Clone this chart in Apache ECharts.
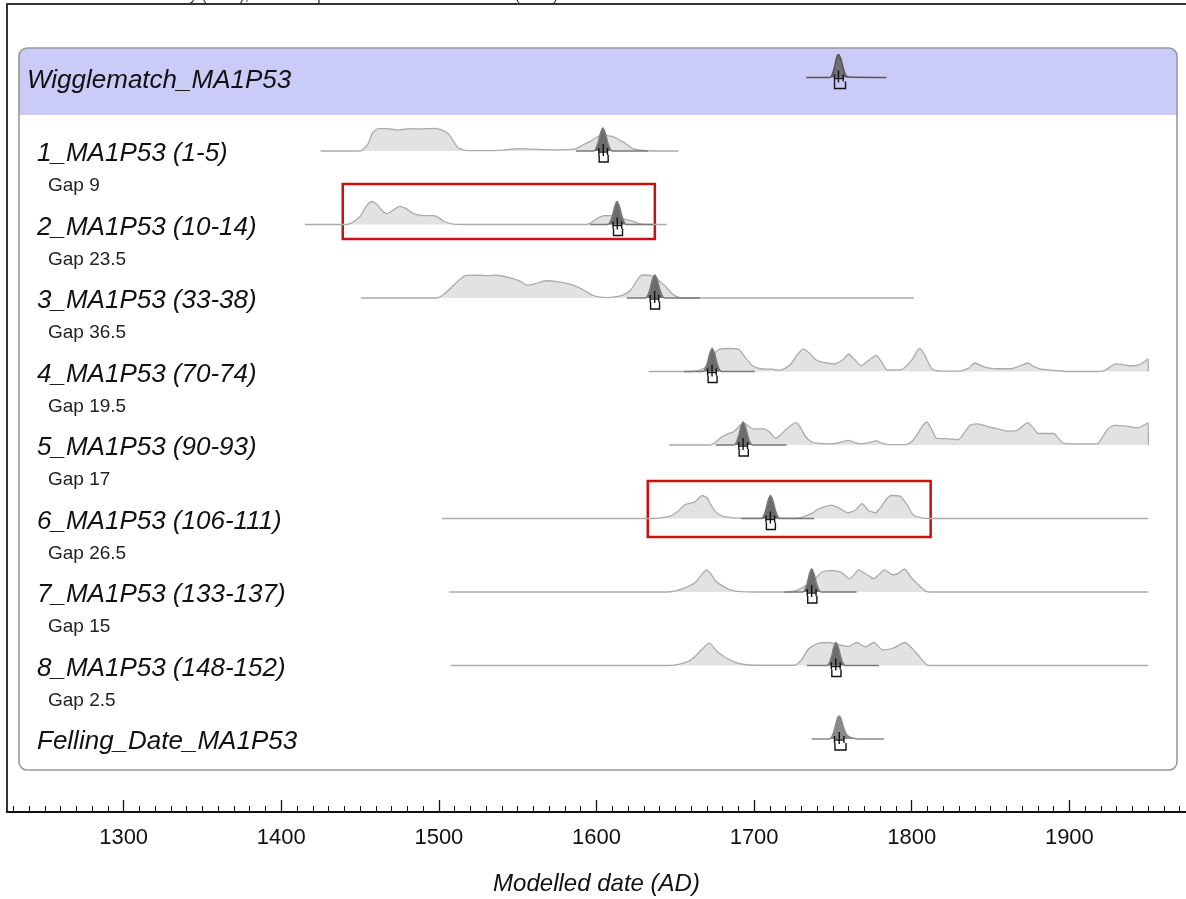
<!DOCTYPE html>
<html>
<head>
<meta charset="utf-8">
<script src="https://cdn.jsdelivr.net/npm/echarts@6/dist/echarts.min.js"></script>
<style>
  html, body { margin: 0; padding: 0; background: #ffffff; }
  #chart { width: 1186px; height: 899px; }
</style>
</head>
<body>
<div id="chart"></div>
<script>
// ---- Labels ----
const headerName = 'Wigglematch_MA1P53';
const rowNames = [
  '1_MA1P53 (1-5)', '2_MA1P53 (10-14)', '3_MA1P53 (33-38)', '4_MA1P53 (70-74)',
  '5_MA1P53 (90-93)', '6_MA1P53 (106-111)', '7_MA1P53 (133-137)', '8_MA1P53 (148-152)'
];
const fellingName = 'Felling_Date_MA1P53';
const gapLabels = ['Gap 9', 'Gap 23.5', 'Gap 36.5', 'Gap 19.5', 'Gap 17', 'Gap 26.5', 'Gap 15', 'Gap 2.5'];
const majorYears = [1300, 1400, 1500, 1600, 1700, 1800, 1900];
const axisTitle = 'Modelled date (AD)';
const topNote = 'OxCal v4.4.4 Bronk Ramsey (2021); r:5 Atmospheric data from Reimer et al (2020)';

// ---- Unmodelled (calibrated) distributions, [year AD, relative probability] ----
const prior1 = [[1425,0],[1449,0],[1451,0.02],[1455,0.3],[1458,0.8],[1461.5,0.97],[1467,0.97],[1472,0.93],[1475,0.92],[1481.5,0.97],[1488,0.96],[1496.5,0.98],[1501.5,0.92],[1506,0.75],[1509,0.45],[1512,0.15],[1516.5,0.03],[1525,0.02],[1539,0.03],[1551,0.1],[1560,0.08],[1572,0.05],[1582,0.06],[1587,0.1],[1591,0.25],[1596,0.42],[1603,0.68],[1610.5,0.62],[1614,0.5],[1618,0.35],[1623,0.1],[1632,0.01],[1652,0]];
const prior2 = [[1415,0],[1441,0],[1445,0.08],[1450,0.35],[1454,0.8],[1457.5,1.0],[1461,0.85],[1464,0.6],[1467,0.47],[1471,0.62],[1475,0.79],[1479,0.7],[1484,0.47],[1490,0.39],[1496.5,0.39],[1500,0.3],[1503,0.14],[1509,0.02],[1520,0],[1594,0],[1597,0.1],[1600,0.25],[1605,0.39],[1610,0.38],[1614,0.3],[1618,0.22],[1623,0.15],[1627.5,0.03],[1632,0],[1644.5,0]];
const prior3 = [[1450.5,0],[1499,0],[1503,0.15],[1507,0.4],[1510,0.6],[1514,0.85],[1517.5,0.98],[1525,0.99],[1531,0.97],[1537,0.99],[1544,0.9],[1551,0.75],[1556,0.55],[1561,0.62],[1568,0.75],[1576,0.7],[1583,0.6],[1589,0.45],[1593,0.3],[1597.5,0.12],[1602,0.04],[1607,0.02],[1614.5,0.08],[1619,0.2],[1622,0.37],[1626,0.8],[1629,1.0],[1634,0.98],[1638,0.85],[1643.5,0.52],[1648.5,0.15],[1653,0.02],[1660,0],[1801.3,0]];
const prior4 = [[1633,0],[1660,0],[1665,0.05],[1668.5,0.15],[1672,0.45],[1675,0.8],[1678,0.97],[1684,1.0],[1690,0.97],[1694.5,0.6],[1699,0.25],[1704,0.12],[1711,0.1],[1717,0.06],[1723,0.3],[1727,0.7],[1731,0.97],[1735,0.8],[1739.5,0.5],[1745,0.38],[1751,0.33],[1756,0.5],[1760,0.75],[1764,0.5],[1768,0.25],[1772,0.45],[1777.5,0.7],[1781,0.4],[1784.5,0.07],[1793,0.07],[1800,0.5],[1805,1.0],[1808,0.75],[1813,0.1],[1820,0.02],[1830,0.02],[1836,0.15],[1840,0.37],[1845,0.22],[1849,0.15],[1856,0.12],[1863,0.12],[1869,0.25],[1873.5,0.37],[1878,0.2],[1882,0.1],[1891,0.05],[1898,0],[1915,0],[1922,0.03],[1926,0.2],[1929,0.33],[1934,0.3],[1938.5,0.25],[1944.5,0.3],[1950,0.55],[1950.1,0]];
const prior5 = [[1646,0],[1672,0],[1676,0.15],[1680,0.38],[1684,0.5],[1687.5,0.6],[1691,0.85],[1693.5,0.95],[1696,0.85],[1699,0.7],[1706.5,0.7],[1710,0.55],[1713.5,0.3],[1717,0.45],[1720.5,0.7],[1726.5,0.97],[1729,0.8],[1732.5,0.38],[1736,0.15],[1739.5,0.08],[1749,0.05],[1755,0.12],[1759.7,0.2],[1764,0.1],[1768,0.05],[1773,0.1],[1777.5,0.18],[1781,0.08],[1785,0.02],[1796.5,0.02],[1800,0.15],[1803.5,0.46],[1806.5,0.8],[1809.5,1.0],[1812.5,0.7],[1815.5,0.3],[1819,0.28],[1823.5,0.27],[1829.5,0.23],[1833,0.5],[1836.8,0.85],[1841.5,0.92],[1846,0.85],[1851,0.75],[1856,0.68],[1860.5,0.6],[1866.5,0.62],[1870,0.8],[1873.5,0.97],[1877,0.75],[1880.5,0.5],[1890,0.5],[1893,0.3],[1896,0.08],[1903,0.05],[1908,0.05],[1917.5,0.05],[1921,0.35],[1924.5,0.7],[1929,0.85],[1936.5,0.82],[1943.5,0.75],[1947,0.85],[1950,0.97],[1950.1,0]];
const prior6 = [[1502,0],[1636,0],[1640,0.02],[1644,0.06],[1647.5,0.12],[1651.5,0.3],[1656,0.6],[1662.5,0.72],[1667,1.0],[1670,0.9],[1673,0.55],[1675.5,0.3],[1680,0.1],[1686.5,0.03],[1700,0.01],[1720,0.01],[1730,0.05],[1736.5,0.22],[1740,0.38],[1743.5,0.48],[1749,0.58],[1754,0.45],[1759.5,0.25],[1764,0.35],[1768.5,0.65],[1772.5,0.35],[1777,0.25],[1780.5,0.5],[1784,0.85],[1787,1.0],[1792.5,0.97],[1797,0.6],[1801,0.15],[1806.5,0.02],[1811,0],[1950,0]];
const prior7 = [[1506.5,0],[1645,0],[1650,0.05],[1656,0.18],[1662.5,0.4],[1667,0.78],[1670,0.96],[1673,0.75],[1675.5,0.48],[1682,0.18],[1686,0.07],[1691,0.02],[1700,0],[1720,0],[1726,0.05],[1731,0.2],[1735,0.4],[1739,0.6],[1743.3,0.88],[1750,0.93],[1755.3,0.85],[1760.7,0.58],[1763.5,0.75],[1766.2,0.96],[1771.7,0.75],[1776,0.58],[1779,0.75],[1782.6,0.96],[1788,0.75],[1791.3,0.8],[1795.3,1.0],[1800,0.6],[1804.4,0.3],[1809,0.03],[1813,0],[1950,0]];
const prior8 = [[1507.5,0],[1645,0],[1649.5,0.02],[1655,0.1],[1660.3,0.26],[1664,0.5],[1666.8,0.7],[1671.6,0.97],[1676.7,0.6],[1682,0.34],[1686,0.2],[1689.8,0.09],[1699.6,0.01],[1725.8,0.01],[1730.2,0.26],[1734.6,0.73],[1741,0.97],[1747.7,1.0],[1754,0.9],[1759.7,0.82],[1765.1,1.0],[1770.6,0.81],[1776,1.0],[1781.5,0.68],[1788,0.75],[1795.7,1.0],[1802.2,0.6],[1806.6,0.25],[1809.8,0.02],[1815,0],[1950,0]];

// ---- Modelled (posterior) distributions ----
const postWiggle = [[1733,0],[1748,0],[1749.5,0.12],[1751,0.45],[1752.3,0.85],[1753.5,1],[1755,0.8],[1756.5,0.4],[1758,0.1],[1760,0.02],[1784,0]];
const post1 = [[1587,0],[1598,0],[1599.5,0.08],[1601,0.35],[1602.5,0.75],[1604,1],[1605.5,0.78],[1607,0.38],[1608.5,0.1],[1610,0],[1632.5,0]];
const post2 = [[1596,0],[1607,0],[1608.5,0.08],[1610,0.35],[1611.5,0.75],[1613,1],[1614.5,0.78],[1616,0.38],[1617.5,0.1],[1619,0],[1636,0]];
const post3 = [[1619.3,0],[1631,0],[1632.5,0.1],[1634,0.4],[1635.5,0.8],[1637,1],[1638.5,0.8],[1640,0.4],[1641.5,0.12],[1643,0],[1665.5,0]];
const post4 = [[1655.4,0],[1667.5,0],[1669,0.1],[1670.5,0.4],[1672,0.8],[1673.3,1],[1674.8,0.8],[1676.3,0.4],[1677.8,0.1],[1679.5,0],[1700.4,0]];
const post5 = [[1675.6,0],[1687.2,0],[1688.7,0.1],[1690.2,0.4],[1691.7,0.8],[1693,1],[1694.4,0.8],[1695.9,0.4],[1697.4,0.1],[1699,0],[1720.6,0]];
const post6 = [[1692,0],[1704.5,0],[1706,0.1],[1707.5,0.4],[1709,0.8],[1710.3,1],[1711.8,0.8],[1713.3,0.4],[1714.8,0.1],[1716.5,0],[1738,0]];
const post7 = [[1719.3,0],[1730.8,0],[1732.3,0.1],[1733.8,0.4],[1735.2,0.8],[1736.5,1],[1737.9,0.8],[1739.4,0.4],[1740.9,0.1],[1742.5,0],[1765,0]];
const post8 = [[1733.4,0],[1746.2,0],[1747.7,0.1],[1749.2,0.4],[1750.6,0.8],[1751.9,1],[1753.3,0.8],[1754.8,0.4],[1756.3,0.1],[1758,0],[1779.3,0]];
const postFelling = [[1736.4,0],[1748,0],[1750,0.2],[1751.5,0.55],[1753,0.92],[1754,1.0],[1755,0.9],[1756.5,0.55],[1758,0.25],[1760,0.1],[1763,0.03],[1766,0],[1782.3,0]];

// ---- Summary statistics: [mean, 68.2% from, 68.2% to, 95.4% from, 95.4% to] ----
const summaryWiggle = [1753.5, 1751, 1756.5, 1751, 1758];
const summaryRows = [
  [1604.3, 1601.5, 1607, 1601.7, 1607.4],
  [1613.2, 1610.5, 1616, 1610.8, 1616.5],
  [1636.9, 1634, 1639.5, 1634.3, 1640],
  [1673.3, 1670.5, 1676, 1670.8, 1676.5],
  [1693.0, 1690.2, 1695.8, 1690.5, 1696.3],
  [1710.3, 1707.5, 1713, 1707.8, 1713.5],
  [1736.5, 1733.7, 1739.3, 1734, 1739.8],
  [1751.8, 1749, 1754.6, 1749.3, 1755.1]
];
const summaryFelling = [1754.0, 1751, 1757, 1751.3, 1758.3];

// ---- Highlighted year spans (row number, from, to) ----
const highlightRows = [2, 6];
const highlightFrom = [1439, 1632.5];
const highlightTo = [1637, 1812];

// ---- Layout ----
const FONT = '"Liberation Sans", Arial, sans-serif';
const X_MIN = 1226, X_MAX = 1974;
const PLOT_LEFT = 7;
const baselines = [77.5, 151, 224.5, 298, 371.5, 445, 518.5, 592, 665.5, 739]; // header, rows 1-8, felling
const UNIT = 23;            // px per unit of relative probability
const Y_MIN = -1, Y_MAX = 2;
const boxExtent = [[1.76, -0.63], [1.63, -0.8]];

const priors = [null, prior1, prior2, prior3, prior4, prior5, prior6, prior7, prior8, null];
const posts = [postWiggle, post1, post2, post3, post4, post5, post6, post7, post8, postFelling];
const summaries = [summaryWiggle].concat(summaryRows, [summaryFelling]);
const postFill = ['#6f6f74', '#6c6c6c', '#6c6c6c', '#6c6c6c', '#6c6c6c', '#6c6c6c', '#6c6c6c', '#6c6c6c', '#6c6c6c', '#8a8a8a'];
const postLine = ['#55555a', '#7a7a7a', '#7a7a7a', '#7a7a7a', '#7a7a7a', '#7a7a7a', '#7a7a7a', '#7a7a7a', '#7a7a7a', '#8a8a8a'];

const minorYears = [];
for (let y = 1230; y <= 1970; y += 10) if (y % 100 !== 0) minorYears.push(y);

function renderSummary(params, api) {
  const m = api.coord([api.value(0), 0]);
  const a = api.coord([api.value(1), 0]);
  const b = api.coord([api.value(2), 0]);
  const c = api.coord([api.value(3), 0]);
  const d = api.coord([api.value(4), 0]);
  const y = m[1];
  const st = { stroke: '#111', lineWidth: 1.4, fill: null };
  return {
    type: 'group',
    children: [
      { type: 'line', shape: { x1: a[0], y1: y + 1, x2: b[0], y2: y + 1 }, style: st },
      { type: 'line', shape: { x1: a[0], y1: y - 3, x2: a[0], y2: y + 4 }, style: st },
      { type: 'line', shape: { x1: b[0], y1: y - 3, x2: b[0], y2: y + 4 }, style: st },
      { type: 'line', shape: { x1: m[0], y1: y - 7, x2: m[0], y2: y + 5 }, style: st },
      { type: 'polyline', shape: { points: [[c[0], y + 4], [c[0], y + 11], [d[0], y + 11], [d[0], y + 4]] }, style: st }
    ]
  };
}

const grids = [{ left: PLOT_LEFT, right: 0, top: 4, bottom: 87, outerBoundsMode: 'none', containLabel: false }];
const xAxes = [
  {
    gridIndex: 0, type: 'value', min: X_MIN, max: X_MAX, position: 'bottom',
    axisLine: { onZero: false, lineStyle: { color: '#111', width: 2 } },
    axisTick: { customValues: majorYears, inside: true, length: 12, lineStyle: { color: '#111', width: 1.3 } },
    axisLabel: { customValues: majorYears, fontSize: 22, color: '#111', margin: 15, fontFamily: FONT, formatter: v => String(v) },
    splitLine: { show: false },
    name: axisTitle, nameLocation: 'middle', nameGap: 60,
    nameTextStyle: { fontSize: 24, fontStyle: 'italic', color: '#111', fontFamily: FONT }
  },
  {
    gridIndex: 0, type: 'value', min: X_MIN, max: X_MAX, position: 'bottom',
    axisLine: { show: false, onZero: false },
    axisTick: { customValues: minorYears, inside: true, length: 6, lineStyle: { color: '#111', width: 1 } },
    axisLabel: { show: false }, splitLine: { show: false }
  },
  {
    gridIndex: 0, type: 'value', min: X_MIN, max: X_MAX, position: 'top',
    axisLine: { onZero: false, lineStyle: { color: '#333', width: 2 } },
    axisTick: { show: false }, axisLabel: { show: false }, splitLine: { show: false }
  }
];
const yAxes = [{
  gridIndex: 0, type: 'value', min: 0, max: 1, position: 'left',
  axisLine: { show: true, onZero: false, lineStyle: { color: '#333', width: 2 } },
  axisTick: { show: false }, axisLabel: { show: false }, splitLine: { show: false }
}];
const series = [];

baselines.forEach((base, i) => {
  const gi = i + 1;
  grids.push({ left: PLOT_LEFT, right: 0, top: base - Y_MAX * UNIT, height: (Y_MAX - Y_MIN) * UNIT, outerBoundsMode: 'none', containLabel: false });
  xAxes.push({ gridIndex: gi, type: 'value', min: X_MIN, max: X_MAX, show: false });
  yAxes.push({ gridIndex: gi, type: 'value', min: Y_MIN, max: Y_MAX, show: false });
  const axisRef = { xAxisIndex: xAxes.length - 1, yAxisIndex: yAxes.length - 1 };

  if (priors[i]) {
    const s = Object.assign({
      type: 'line', data: priors[i], showSymbol: false, smooth: 0.2, z: 2,
      lineStyle: { color: '#ababab', width: 1.3 },
      areaStyle: { color: '#e2e2e2', opacity: 1 },
      silent: true
    }, axisRef);
    const hi = highlightRows.indexOf(i);
    if (hi >= 0) {
      s.markArea = {
        silent: true,
        itemStyle: { color: 'rgba(0,0,0,0)', borderColor: '#cc1010', borderWidth: 2.5 },
        data: [[
          { xAxis: highlightFrom[hi], yAxis: boxExtent[hi][0] },
          { xAxis: highlightTo[hi], yAxis: boxExtent[hi][1] }
        ]]
      };
    }
    series.push(s);
  }
  series.push(Object.assign({
    type: 'line', data: posts[i], showSymbol: false, smooth: 0.3, z: 3,
    lineStyle: { color: postLine[i], width: 1.6 },
    areaStyle: { color: postFill[i], opacity: 1 },
    silent: true
  }, axisRef));
  series.push(Object.assign({
    type: 'custom', renderItem: renderSummary, data: [summaries[i]], z: 4, silent: true,
    clip: false
  }, axisRef));
});

// Panel, header band and text labels
const graphics = [
  { type: 'rect', z: 0, shape: { x: 19, y: 48, width: 1158, height: 67, r: [8, 8, 0, 0] }, style: { fill: '#cbcbf8' }, silent: true },
  { type: 'rect', z: 1, shape: { x: 19, y: 48, width: 1158, height: 722, r: 8 }, style: { fill: null, stroke: '#9a9a9a', lineWidth: 1.6 }, silent: true },
  { type: 'text', z: 5, style: { text: topNote, x: 8, y: 3, textVerticalAlign: 'bottom', font: '15px ' + FONT, fill: '#333' } },
  { type: 'text', z: 5, style: { text: headerName, x: 27, y: baselines[0] + 3, textVerticalAlign: 'middle', font: 'italic 26px ' + FONT, fill: '#111' } },
  { type: 'text', z: 5, style: { text: fellingName, x: 37, y: baselines[9] + 3, textVerticalAlign: 'middle', font: 'italic 26px ' + FONT, fill: '#111' } }
];
rowNames.forEach((name, k) => {
  graphics.push({ type: 'text', z: 5, style: { text: name, x: 37, y: baselines[k + 1] + 3, textVerticalAlign: 'middle', font: 'italic 26px ' + FONT, fill: '#111' } });
  graphics.push({ type: 'text', z: 5, style: { text: gapLabels[k], x: 48, y: baselines[k + 1] + 35, textVerticalAlign: 'middle', font: '19px ' + FONT, fill: '#222' } });
});

const chart = echarts.init(document.getElementById('chart'), null, { renderer: 'canvas' });
chart.setOption({
  animation: false,
  backgroundColor: '#ffffff',
  textStyle: { fontFamily: FONT },
  grid: grids,
  xAxis: xAxes,
  yAxis: yAxes,
  series: series,
  graphic: graphics
});
</script>
</body>
</html>
